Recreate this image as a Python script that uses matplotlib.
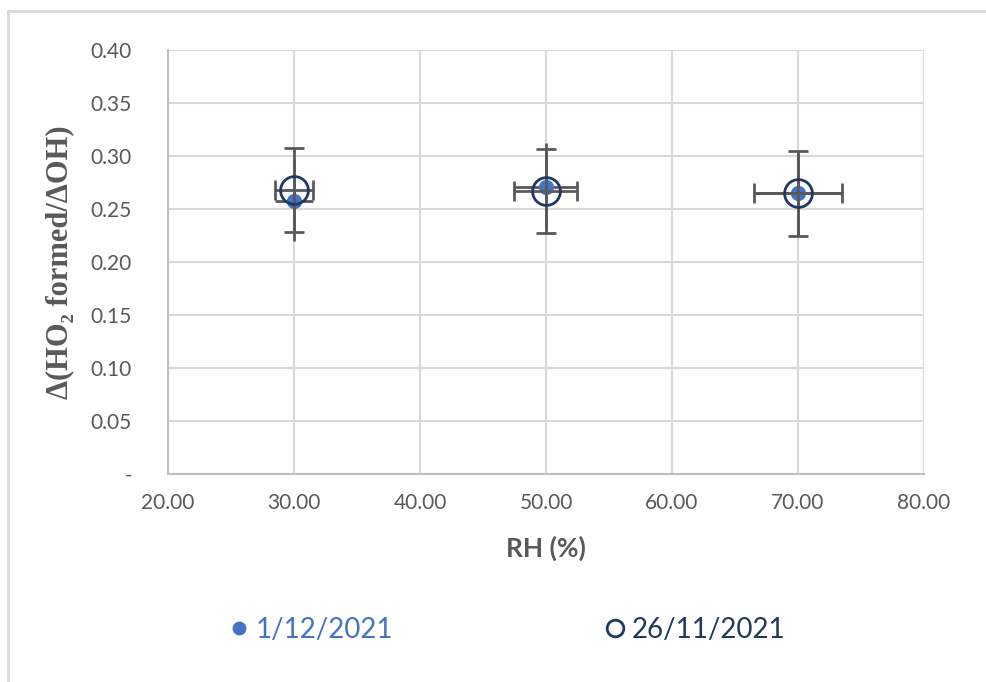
import matplotlib
matplotlib.use("Agg")
import matplotlib.pyplot as plt
from matplotlib.lines import Line2D

# Data
rh = [30.0, 50.0, 70.0]
rh_err = [1.5, 2.5, 3.5]
s1_label = "1/12/2021"
s1_y = [0.258, 0.271, 0.265]
s1_yerr = [0.038, 0.041, 0.040]
s2_label = "26/11/2021"
s2_y = [0.268, 0.267, 0.265]
s2_yerr = [0.040, 0.040, 0.040]
xticks = [20, 30, 40, 50, 60, 70, 80]
yticks = [0.0, 0.05, 0.10, 0.15, 0.20, 0.25, 0.30, 0.35, 0.40]

plt.rcParams["font.family"] = ["Lato", "DejaVu Sans"]

W, H = 987, 682
fig = plt.figure(figsize=(W / 100, H / 100), dpi=100)
ax = fig.add_axes([168 / W, 1 - 474 / H, (924 - 168) / W, (474 - 50) / H])

tick_color = "#595959"
grid_color = "#d9d9d9"
err_color = "#595959"
blue = "#4472C4"
navy = "#203864"

ax.errorbar(rh, s1_y, yerr=s1_yerr, xerr=rh_err, fmt="o", color=blue,
            markersize=11, markeredgewidth=0, ecolor=err_color, elinewidth=2,
            capsize=7, capthick=2, zorder=4)
ax.errorbar(rh, s2_y, yerr=s2_yerr, xerr=rh_err, fmt="o", mfc="none",
            mec=navy, markersize=20, markeredgewidth=2, ecolor=err_color,
            elinewidth=2, capsize=7, capthick=2, zorder=5)

ax.set_xlim(20, 80)
ax.set_ylim(0, 0.40)
ax.set_xticks(xticks)
ax.set_yticks(yticks)
ax.set_xticklabels([f"{v:.2f}" for v in xticks])
ax.set_yticklabels(["-" if v == 0 else f"{v:.2f}" for v in yticks])
ax.tick_params(length=0, labelsize=15, colors=tick_color)
ax.tick_params(axis="y", pad=26)
ax.tick_params(axis="x", pad=14)
ax.grid(True, color=grid_color, linewidth=1.5, zorder=0)
ax.set_axisbelow(True)
for s in ["top", "right"]:
    ax.spines[s].set_visible(False)
for s in ["left", "bottom"]:
    ax.spines[s].set_color("#bfbfbf")
    ax.spines[s].set_linewidth(1.5)

ax.set_xlabel("RH (%)", fontsize=19, fontweight="bold", color=tick_color,
              labelpad=16)
ax.set_ylabel("Δ(HO₂ formed/ΔOH)", fontsize=22,
              fontweight="bold", color="#595959",
              family=["Liberation Serif", "DejaVu Serif"], labelpad=12)

# legend
h1 = Line2D([], [], marker="o", linestyle="none", color=blue, markersize=10,
            markeredgewidth=0)
h2 = Line2D([], [], marker="o", linestyle="none", mfc="none", mec=navy,
            markersize=12, markeredgewidth=2)
leg = fig.legend([h1, h2], [s1_label, s2_label], loc="center",
                 bbox_to_anchor=(0.512, 1 - 630 / H), ncol=2, frameon=False,
                 fontsize=20, handletextpad=0.1, columnspacing=7.5,
                 handlelength=1.0)
for t, c in zip(leg.get_texts(), [blue, navy]):
    t.set_color(c)

# outer border
fig.add_artist(Line2D([8 / W, 8 / W], [1 - 11 / H, 0], color="#d9d9d9",
                      linewidth=2, transform=fig.transFigure))
fig.add_artist(Line2D([8 / W, 1], [1 - 11 / H, 1 - 11 / H], color="#d9d9d9",
                      linewidth=2, transform=fig.transFigure))

fig.savefig("out.png", dpi=100, facecolor="white")
